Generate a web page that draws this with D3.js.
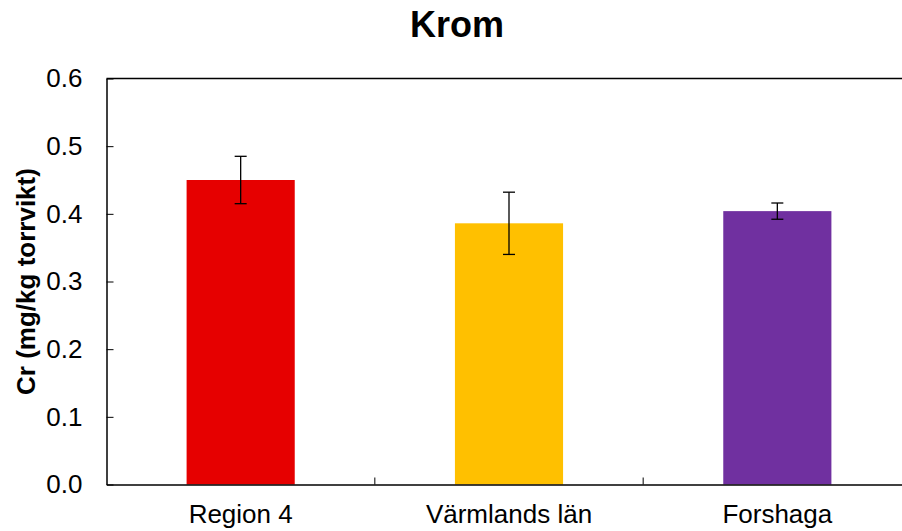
<!DOCTYPE html>
<html><head><meta charset="utf-8">
<script src="https://cdn.jsdelivr.net/npm/d3@7"></script>
<style>body{margin:0;background:#fff;} svg{display:block;}</style>
</head><body>
<script>
const categories = ["Region 4", "Värmlands län", "Forshaga"];
const values = [0.450, 0.386, 0.404];
const errors = [0.035, 0.046, 0.012];
const colors = ["#E60000", "#FFC000", "#7030A0"];
const yTicks = [0, 0.1, 0.2, 0.3, 0.4, 0.5, 0.6];
const title = "Krom";
const yTitle = "Cr (mg/kg torrvikt)";

const W = 902, H = 531;
const m = {left: 106.5, right: 911.5, top: 78.5, bottom: 484.5};
const svg = d3.select("body").append("svg").attr("width", W).attr("height", H);
const font = "Liberation Sans, Arial, sans-serif";

const x = d3.scaleBand().domain(categories).range([m.left, m.right]).paddingInner(0).paddingOuter(0);
const y = d3.scaleLinear().domain([0, 0.6]).range([m.bottom, m.top]);

// bars
const bw = x.bandwidth() * 0.403;
svg.selectAll("rect.bar").data(categories).enter().append("rect")
  .attr("x", d => x(d) + x.bandwidth()/2 - bw/2)
  .attr("y", (d,i) => y(values[i]))
  .attr("width", bw)
  .attr("height", (d,i) => y(0) - y(values[i]))
  .attr("fill", (d,i) => colors[i]);

// error bars
const g = svg.append("g").attr("stroke", "#000").attr("stroke-width", 1.3);
categories.forEach((c,i) => {
  const cx = x(c) + x.bandwidth()/2;
  const t = y(values[i] + errors[i]), b = y(values[i] - errors[i]);
  g.append("line").attr("x1", cx).attr("x2", cx).attr("y1", t).attr("y2", b);
  g.append("line").attr("x1", cx-6).attr("x2", cx+6).attr("y1", t).attr("y2", t);
  g.append("line").attr("x1", cx-6).attr("x2", cx+6).attr("y1", b).attr("y2", b);
});

// frame (top and right)
svg.append("path").attr("d", `M${m.left},${m.top}H${m.right}V${m.bottom}`)
  .attr("fill", "none").attr("stroke", "#000").attr("stroke-width", 1.5);

// y axis
const yAxis = d3.axisLeft(y).tickValues(yTicks).tickFormat(d3.format(".1f")).tickSizeInner(-7).tickSizeOuter(0).tickPadding(24);
const ya = svg.append("g").attr("transform", `translate(${m.left},0)`).call(yAxis);
ya.select(".domain").attr("stroke", "#000").attr("stroke-width", 1.5);
ya.selectAll(".tick line").attr("stroke", "#000").attr("stroke-width", 1);
ya.selectAll(".tick text").attr("font-family", font).attr("font-size", 26).attr("fill", "#000");

// x axis
const xAxis = d3.axisBottom(x).tickSize(0).tickPadding(20);
const xa = svg.append("g").attr("transform", `translate(0,${m.bottom})`).call(xAxis);
xa.select(".domain").attr("stroke", "#000").attr("stroke-width", 1.5);
xa.selectAll(".tick text").attr("font-family", font).attr("font-size", 26).attr("fill", "#000");
// category separator ticks
svg.selectAll("line.sep").data(categories.slice(1)).enter().append("line")
  .attr("x1", d => x(d)).attr("x2", d => x(d))
  .attr("y1", m.bottom).attr("y2", m.bottom - 7)
  .attr("stroke", "#000").attr("stroke-width", 1);

// title
svg.append("text").attr("x", 457).attr("y", 37).attr("text-anchor", "middle")
  .attr("font-family", font).attr("font-weight", "bold").attr("font-size", 36).text(title);

// y title
svg.append("text").attr("transform", `translate(35,${(m.top+m.bottom)/2}) rotate(-90)`)
  .attr("text-anchor", "middle").attr("font-family", font).attr("font-weight", "bold")
  .attr("font-size", 26).text(yTitle);
</script>
</body></html>
